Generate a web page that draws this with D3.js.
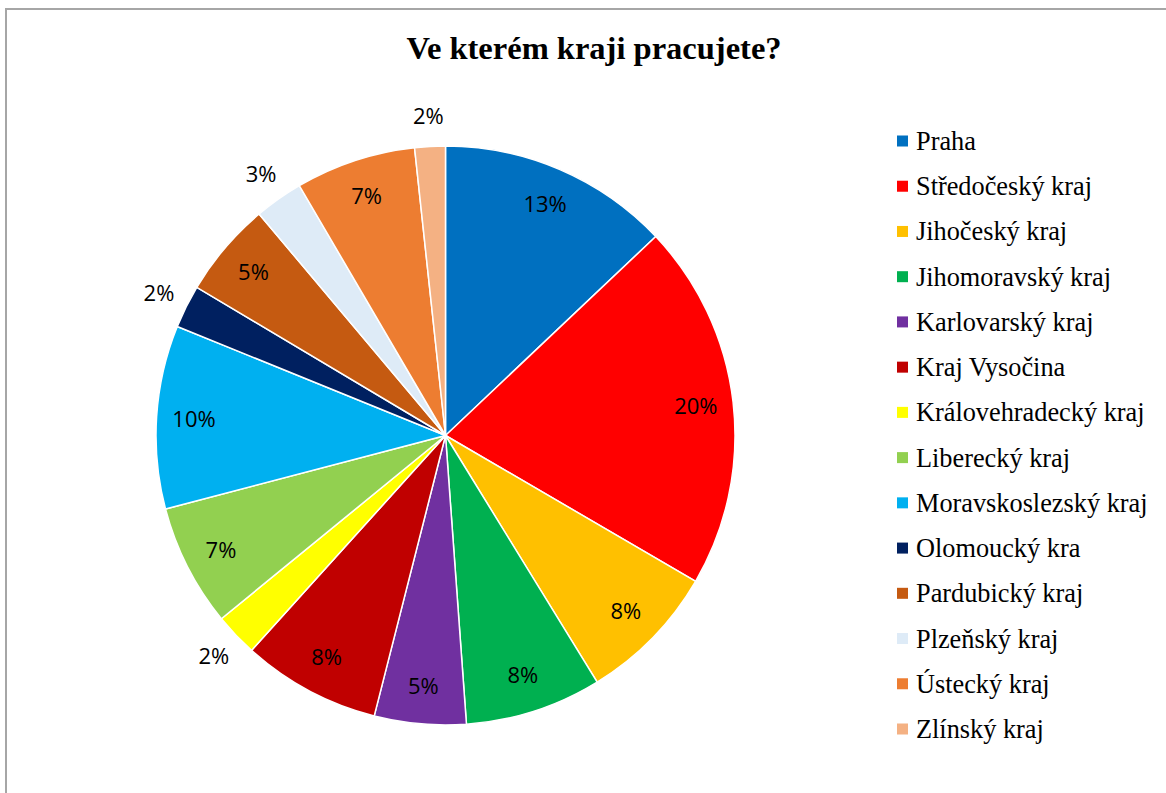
<!DOCTYPE html>
<html>
<head>
<meta charset="utf-8">
<script src="https://cdn.jsdelivr.net/npm/d3@7"></script>
<style>
  body { margin: 0; background: #fff; }
  svg { display: block; }
</style>
</head>
<body>
<svg id="chart"></svg>
<script>
// Regions and their share (%)
const regions = ['Praha', 'Středočeský kraj', 'Jihočeský kraj', 'Jihomoravský kraj',
  'Karlovarský kraj', 'Kraj Vysočina', 'Královehradecký kraj', 'Liberecký kraj',
  'Moravskoslezský kraj', 'Olomoucký kra', 'Pardubický kraj', 'Plzeňský kraj',
  'Ústecký kraj', 'Zlínský kraj'];
const shares = [12.9, 20.4, 7.8, 7.6, 5.1, 7.7, 2.4, 6.8, 10.2, 2.4, 5.3, 2.7, 6.7, 1.7];
const colors = ['#0070C0', '#FF0000', '#FFC000', '#00B050', '#7030A0', '#C00000', '#FFFF00',
  '#92D050', '#00B0F0', '#002060', '#C55A11', '#DEEBF7', '#ED7D31', '#F4B183'];

const width = 1166, height = 793;
const cx = 445.5, cy = 435.5, radius = 289.5;

const svg = d3.select('#chart')
    .attr('width', width)
    .attr('height', height);

// Frame
svg.append('rect')
    .attr('x', 6).attr('y', 9)
    .attr('width', 1300).attr('height', 1000)
    .attr('fill', 'none')
    .attr('stroke', '#a6a6a6')
    .attr('stroke-width', 2);

// Title
svg.append('text')
    .attr('x', 594).attr('y', 59)
    .attr('text-anchor', 'middle')
    .style('font-family', '"Liberation Serif", "Times New Roman", serif')
    .style('font-weight', 'bold')
    .style('font-size', '32.5px')
    .text('Ve kterém kraji pracujete?');

const data = regions.map((r, i) => ({ region: r, value: shares[i], color: colors[i] }));
const total = d3.sum(shares);

const pie = d3.pie().sort(null).value(d => d.value);
const arc = d3.arc().innerRadius(0).outerRadius(radius);
const inLabel = d3.arc().innerRadius(252).outerRadius(252);
const outLabel = d3.arc().innerRadius(320).outerRadius(320);

const g = svg.append('g').attr('transform', `translate(${cx},${cy})`);

const arcs = pie(data);

g.selectAll('path')
    .data(arcs)
    .join('path')
    .attr('d', arc)
    .attr('fill', d => d.data.color)
    .attr('stroke', '#fff')
    .attr('stroke-width', 1.5);

// Data labels (small slices outside)
g.selectAll('text.label')
    .data(arcs)
    .join('text')
    .attr('class', 'label')
    .attr('transform', d => {
        const pos = d.data.value < 3 ? outLabel.centroid(d) : inLabel.centroid(d);
        return `translate(${pos[0]},${pos[1]})`;
    })
    .attr('text-anchor', 'middle')
    .attr('dy', '0.35em')
    .style('font-family', '"Open Sans", "Liberation Sans", sans-serif')
    .style('font-size', '22px')
    .style('fill', '#000')
    .text(d => Math.round(d.data.value / total * 100) + '%');

// Legend
const legendY = d3.scalePoint()
    .domain(regions)
    .range([141, 729]);

const legend = svg.append('g')
    .selectAll('g')
    .data(data)
    .join('g')
    .attr('transform', d => `translate(897,${legendY(d.region)})`);

legend.append('rect')
    .attr('x', 0).attr('y', -5.5)
    .attr('width', 11).attr('height', 11)
    .attr('fill', d => d.color);

legend.append('text')
    .attr('x', 19).attr('y', 9)
    .style('font-family', '"Liberation Serif", "Times New Roman", serif')
    .style('font-size', '26.3px')
    .style('fill', '#000')
    .text(d => d.region);
</script>
</body>
</html>
